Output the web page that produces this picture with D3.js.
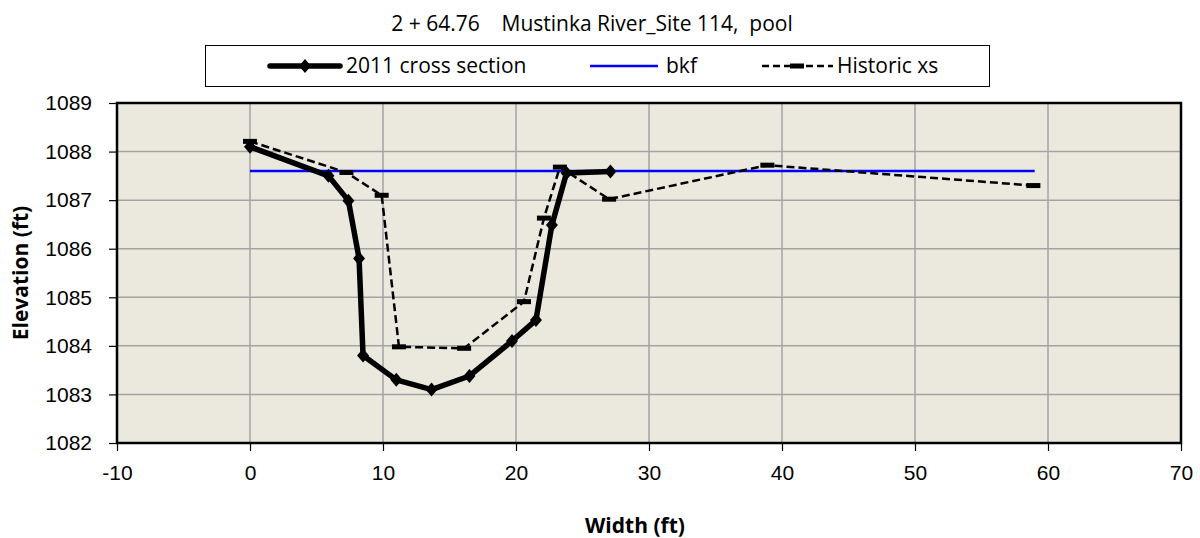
<!DOCTYPE html>
<html lang="en">
<head>
<meta charset="UTF-8">
<title>Mustinka River Site 114 cross section</title>
<script src="https://cdnjs.cloudflare.com/ajax/libs/d3/7.8.5/d3.min.js"></script>
<style>
  body { margin: 0; background: #fff; }
  svg { display: block; font-family: "Open Sans", "Noto Sans", sans-serif; }
  .grid line { stroke: #a3a3a3; stroke-width: 1.5; }
  .axis path { display: none; }
  .axis line { stroke: #000; stroke-width: 1.2; }
  .axis text { fill: #000; font-size: 21px; }
</style>
</head>
<body>
<script>
// 2011 survey
var xs2011 = [0, 5.9, 7.4, 8.2, 8.5, 11.0, 13.65, 16.5, 19.7, 21.5, 22.7, 23.8, 27.1];
var elev2011 = [1088.1, 1087.5, 1086.99, 1085.8, 1083.8, 1083.3, 1083.1, 1083.38, 1084.1, 1084.53, 1086.49, 1087.56, 1087.59];

// historic cross section
var xsHist = [0, 7.25, 9.9, 11.2, 16.1, 20.6, 22.1, 23.3, 27.0, 38.9, 58.9];
var elevHist = [1088.21, 1087.57, 1087.1, 1083.98, 1083.95, 1084.91, 1086.63, 1087.68, 1087.02, 1087.72, 1087.3];

// bankfull
var xsBkf = [0, 59];
var elevBkf = [1087.6, 1087.6];

var xTicks = [-10, 0, 10, 20, 30, 40, 50, 60, 70];
var yTicks = [1082, 1083, 1084, 1085, 1086, 1087, 1088, 1089];
var seriesNames = ["2011 cross section", "bkf", "Historic xs"];
var chartTitle = "2 + 64.76    Mustinka River_Site 114,  pool";

var W = 1200, H = 538;
var m = {left: 117, right: 19, top: 103, bottom: 95};

var svg = d3.select("body").append("svg").attr("width", W).attr("height", H);

var x = d3.scaleLinear().domain([-10, 70]).range([m.left, W - m.right]);
var y = d3.scaleLinear().domain([1082, 1089]).range([H - m.bottom, m.top]);

// plot background
svg.append("rect")
  .attr("x", x(-10)).attr("y", y(1089))
  .attr("width", x(70) - x(-10)).attr("height", y(1082) - y(1089))
  .attr("fill", "#ebe8de");

// gridlines
var grid = svg.append("g").attr("class", "grid");
grid.selectAll(".gx").data(xTicks.slice(1, -1)).enter().append("line")
  .attr("x1", d => x(d)).attr("x2", d => x(d))
  .attr("y1", y(1089)).attr("y2", y(1082));
grid.selectAll(".gy").data(yTicks.slice(1, -1)).enter().append("line")
  .attr("y1", d => y(d)).attr("y2", d => y(d))
  .attr("x1", x(-10)).attr("x2", x(70));

// axes (plain hyphen for negatives like the original)
var fmt = d => String(d);
svg.append("g").attr("class", "axis")
  .attr("transform", "translate(0," + y(1082) + ")")
  .call(d3.axisBottom(x).tickValues(xTicks).tickSize(8).tickPadding(14).tickFormat(fmt));
svg.append("g").attr("class", "axis")
  .attr("transform", "translate(" + x(-10) + ",0)")
  .call(d3.axisLeft(y).tickValues(yTicks).tickSize(8).tickPadding(17).tickFormat(fmt));

// border
svg.append("rect")
  .attr("x", x(-10)).attr("y", y(1089))
  .attr("width", x(70) - x(-10)).attr("height", y(1082) - y(1089))
  .attr("fill", "none").attr("stroke", "#000").attr("stroke-width", 2.5);

var line = d3.line().x(d => x(d[0])).y(d => y(d[1]));

var bkf = xsBkf.map((d, i) => [d, elevBkf[i]]);
var hist = xsHist.map((d, i) => [d, elevHist[i]]);
var cur = xs2011.map((d, i) => [d, elev2011[i]]);

svg.append("path").datum(bkf).attr("d", line)
  .attr("fill", "none").attr("stroke", "#0000ff").attr("stroke-width", 2.5);

svg.append("path").datum(hist).attr("d", line)
  .attr("fill", "none").attr("stroke", "#000").attr("stroke-width", 2.5)
  .attr("stroke-dasharray", "8,4");
svg.selectAll(".hm").data(hist).enter().append("rect")
  .attr("x", d => x(d[0]) - 7).attr("y", d => y(d[1]) - 2.5)
  .attr("width", 14).attr("height", 5).attr("fill", "#000");

svg.append("path").datum(cur).attr("d", line)
  .attr("fill", "none").attr("stroke", "#000").attr("stroke-width", 5.5)
  .attr("stroke-linejoin", "round");
var diamond = "M0,-7L6,0L0,7L-6,0Z";
svg.selectAll(".cm").data(cur).enter().append("path")
  .attr("transform", d => "translate(" + x(d[0]) + "," + y(d[1]) + ")")
  .attr("d", diamond).attr("fill", "#000");

// title
svg.append("text")
  .attr("x", 592).attr("y", 31)
  .attr("text-anchor", "middle")
  .style("font-size", "21px").style("white-space", "pre")
  .attr("xml:space", "preserve")
  .text(chartTitle);

// legend
var lg = svg.append("g");
lg.append("rect").attr("x", 205.5).attr("y", 45.5).attr("width", 784).attr("height", 41)
  .attr("fill", "#fff").attr("stroke", "#000").attr("stroke-width", 1);
var ly = 66;
lg.append("line").attr("x1", 270).attr("x2", 340).attr("y1", ly).attr("y2", ly)
  .attr("stroke", "#000").attr("stroke-width", 5.5).attr("stroke-linecap", "round");
lg.append("path").attr("transform", "translate(305," + ly + ")").attr("d", diamond).attr("fill", "#000");
lg.append("line").attr("x1", 590).attr("x2", 658).attr("y1", ly).attr("y2", ly)
  .attr("stroke", "#0000ff").attr("stroke-width", 2.5);
lg.append("line").attr("x1", 762).attr("x2", 833).attr("y1", ly).attr("y2", ly)
  .attr("stroke", "#000").attr("stroke-width", 2.5).attr("stroke-dasharray", "7,4");
lg.append("rect").attr("x", 790).attr("y", ly - 2.5).attr("width", 14).attr("height", 5).attr("fill", "#000");
var lx = [346, 666, 837];
lg.selectAll(".lt").data(seriesNames).enter().append("text")
  .attr("x", (d, i) => lx[i]).attr("y", ly).attr("dy", "0.35em")
  .style("font-size", "21px").text(d => d);

// axis titles
svg.append("text")
  .attr("x", 635).attr("y", 533).attr("text-anchor", "middle")
  .style("font-size", "21px").style("font-weight", "bold")
  .text("Width (ft)");
svg.append("text")
  .attr("transform", "translate(28," + ((y(1082) + y(1089)) / 2) + ") rotate(-90)")
  .attr("text-anchor", "middle")
  .style("font-size", "21px").style("font-weight", "bold")
  .text("Elevation (ft)");
</script>
</body>
</html>
